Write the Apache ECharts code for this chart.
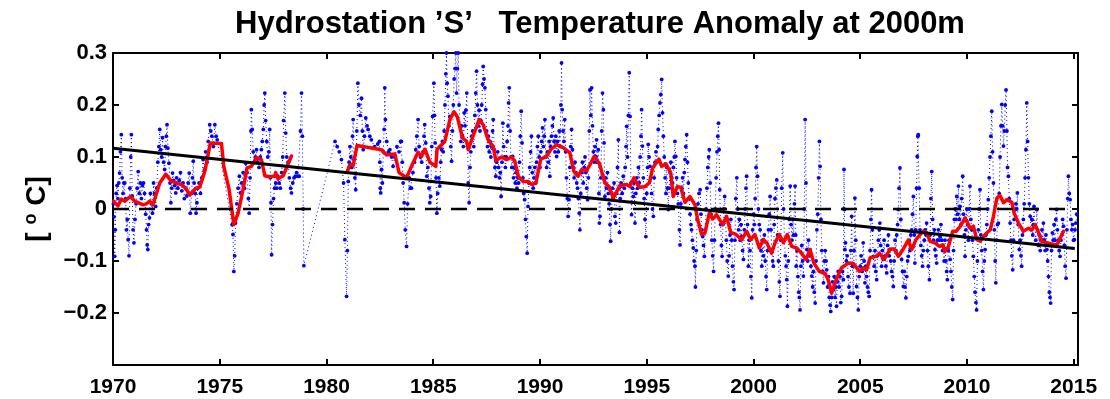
<!DOCTYPE html>
<html>
<head>
<meta charset="utf-8">
<script src="https://cdn.jsdelivr.net/npm/echarts@6/dist/echarts.min.js"></script>
<style>
  html, body { margin: 0; padding: 0; background: #fff; }
  #chart { width: 1110px; height: 399px; }
</style>
</head>
<body>
<div id="chart"></div>
<script>
// Individual cast anomalies at 2000 m: [decimal year, anomaly degC]
const castAnomaly = [
  [1970.02,0.010],[1970.05,-0.015],[1970.08,-0.091],[1970.11,-0.040],[1970.15,0.030],[1970.19,0.045],[1970.23,0.020],[1970.27,0.050],
  [1970.31,0.069],[1970.35,0.110],[1970.39,0.143],[1970.43,0.060],[1970.47,0.030],[1970.51,0.050],[1970.55,0.050],[1970.59,0.020],
  [1970.63,-0.040],[1970.67,-0.020],[1970.71,-0.059],[1970.75,-0.090],[1970.79,0.040],[1970.83,0.100],[1970.86,0.143],[1970.90,0.025],
  [1970.94,-0.040],[1970.98,-0.065],
  [1971.03,-0.020],[1971.08,0.010],[1971.13,0.040],[1971.18,0.072],[1971.23,0.030],[1971.28,0.050],[1971.33,0.020],[1971.38,0.045],
  [1971.43,0.050],[1971.48,0.030],[1971.53,-0.010],[1971.57,-0.040],[1971.60,-0.069],[1971.63,-0.078],[1971.67,-0.030],[1971.71,-0.017],
  [1971.75,0.030],[1971.80,0.010],[1971.85,-0.008],[1971.90,0.050],[1971.95,0.030],
  [1972.00,0.005],[1972.05,0.040],[1972.10,0.090],[1972.15,0.120],[1972.19,0.153],[1972.23,0.114],[1972.28,0.100],[1972.32,0.137],
  [1972.37,0.090],[1972.42,0.076],[1972.46,0.120],[1972.50,0.140],[1972.53,0.162],[1972.57,0.117],[1972.62,0.088],[1972.67,0.050],
  [1972.71,0.012],[1972.75,0.040],[1972.79,0.069],[1972.84,0.055],[1972.89,0.045],[1972.94,0.031],[1972.98,0.060],
  [1973.04,0.040],[1973.10,0.055],[1973.16,0.070],[1973.22,0.035],[1973.28,0.050],[1973.34,0.020],[1973.40,0.040],[1973.46,0.025],
  [1973.52,0.050],[1973.57,0.069],[1973.62,-0.008],[1973.68,0.030],[1973.72,0.060],[1973.76,0.092],[1973.80,0.050],[1973.85,0.030],
  [1973.89,-0.008],[1973.93,0.012],[1973.97,0.040],
  [1974.03,0.050],[1974.10,0.030],[1974.16,0.060],[1974.22,0.095],[1974.28,0.075],[1974.34,0.110],[1974.40,0.090],[1974.46,0.130],
  [1974.53,0.162],[1974.58,0.150],[1974.63,0.140],[1974.70,0.120],[1974.77,0.162],[1974.83,0.140],[1974.88,0.133],
  [1975.58,-0.030],[1975.62,-0.049],[1975.66,-0.120],[1975.70,-0.090],[1975.74,-0.027],[1975.80,0.010],[1975.86,0.040],[1975.92,0.063],
  [1975.97,0.031],
  [1976.03,0.050],[1976.10,0.070],[1976.16,0.040],[1976.22,0.088],[1976.28,0.070],[1976.34,0.020],[1976.38,-0.008],[1976.42,0.060],
  [1976.46,0.150],[1976.48,0.191],[1976.52,0.153],[1976.57,0.110],[1976.62,0.090],[1976.67,0.100],[1976.72,0.114],[1976.78,0.090],
  [1976.84,0.080],[1976.90,0.100],[1976.95,0.114],[1976.99,0.130],
  [1977.04,0.153],[1977.08,0.200],[1977.11,0.223],[1977.15,0.170],[1977.20,0.130],[1977.25,0.100],[1977.30,0.110],[1977.34,0.153],
  [1977.37,0.060],[1977.40,0.012],[1977.43,-0.088],[1977.47,-0.030],[1977.52,0.020],[1977.57,0.040],[1977.62,0.050],[1977.67,0.040],
  [1977.72,0.063],[1977.78,0.050],[1977.84,0.040],[1977.90,0.070],[1977.95,0.100],[1977.99,0.170],
  [1978.05,0.223],[1978.09,0.146],[1978.14,0.100],[1978.20,0.090],[1978.26,0.060],[1978.32,0.040],[1978.36,0.031],[1978.42,0.050],
  [1978.48,0.060],[1978.54,0.063],[1978.60,0.070],[1978.66,0.063],[1978.72,0.063],[1978.78,0.150],[1978.83,0.223],[1978.87,0.140],
  [1978.91,0.000],[1978.94,-0.109],
  [1980.40,0.130],[1980.50,0.120],[1980.60,0.110],[1980.70,0.095],[1980.80,0.050],[1980.86,-0.059],[1980.94,-0.168],[1980.98,-0.080],
  [1981.02,0.053],[1981.06,0.090],[1981.10,0.120],[1981.14,0.100],[1981.18,0.080],[1981.22,0.140],[1981.25,0.172],[1981.29,0.095],
  [1981.33,0.060],[1981.37,0.037],[1981.42,0.150],[1981.47,0.242],[1981.52,0.200],[1981.58,0.180],[1981.64,0.213],[1981.68,0.150],
  [1981.72,0.114],[1981.78,0.140],[1981.84,0.175],[1981.90,0.160],[1981.95,0.153],
  [1982.03,0.140],[1982.10,0.133],[1982.25,0.120],[1982.40,0.125],[1982.48,0.130],[1982.50,0.090],[1982.52,0.040],[1982.54,0.031],
  [1982.58,0.076],[1982.62,0.050],[1982.66,0.110],[1982.70,0.153],[1982.73,0.233],[1982.76,0.172],[1982.82,0.130],[1982.90,0.110],
  [1982.97,0.114],
  [1983.05,0.100],[1983.12,0.082],[1983.20,0.100],[1983.30,0.120],[1983.40,0.110],[1983.47,0.130],[1983.51,0.130],[1983.55,0.090],
  [1983.59,0.050],[1983.64,0.012],[1983.69,-0.040],[1983.75,-0.072],[1983.80,0.010],[1983.87,0.060],[1983.93,0.040],[1983.98,0.040],
  [1984.05,0.070],[1984.12,0.090],[1984.18,0.114],[1984.23,0.140],[1984.29,0.172],[1984.34,0.120],[1984.40,0.100],[1984.46,0.090],
  [1984.52,0.110],[1984.57,0.140],[1984.60,0.162],[1984.65,0.127],[1984.70,0.063],[1984.75,0.080],[1984.80,0.040],[1984.84,0.012],
  [1984.88,0.024],[1984.93,0.120],[1984.97,0.178],
  [1985.03,0.242],[1985.06,0.180],[1985.09,0.127],[1985.13,0.060],[1985.17,-0.008],[1985.21,0.030],[1985.26,0.060],[1985.31,0.044],
  [1985.35,0.090],[1985.39,0.114],[1985.43,0.130],[1985.47,0.110],[1985.51,0.150],[1985.55,0.200],[1985.59,0.260],[1985.62,0.300],
  [1985.65,0.242],[1985.69,0.217],[1985.73,0.160],[1985.78,0.178],[1985.82,0.120],[1985.86,0.092],[1985.90,0.150],[1985.94,0.200],
  [1985.98,0.250],
  [1986.02,0.270],[1986.06,0.300],[1986.09,0.223],[1986.13,0.270],[1986.17,0.300],[1986.21,0.200],[1986.25,0.160],[1986.29,0.130],
  [1986.33,0.160],[1986.37,0.140],[1986.41,0.120],[1986.45,0.185],[1986.49,0.160],[1986.53,0.190],[1986.57,0.223],[1986.61,0.120],
  [1986.64,0.050],[1986.68,0.012],[1986.72,0.080],[1986.76,0.110],[1986.80,0.140],[1986.85,0.150],[1986.90,0.120],[1986.95,0.180],
  [1986.99,0.223],
  [1987.03,0.265],[1987.07,0.200],[1987.11,0.160],[1987.15,0.190],[1987.19,0.150],[1987.23,0.170],[1987.27,0.200],[1987.31,0.240],
  [1987.34,0.274],[1987.38,0.250],[1987.42,0.233],[1987.46,0.191],[1987.50,0.150],[1987.54,0.120],[1987.58,0.140],[1987.62,0.110],
  [1987.66,0.130],[1987.70,0.100],[1987.74,0.120],[1987.78,0.150],[1987.81,0.172],[1987.85,0.114],[1987.89,0.080],[1987.93,0.063],
  [1987.97,0.090],
  [1988.02,0.110],[1988.06,0.080],[1988.10,0.060],[1988.14,0.070],[1988.18,0.024],[1988.22,0.090],[1988.26,0.165],[1988.30,0.120],
  [1988.34,0.100],[1988.38,0.080],[1988.42,0.100],[1988.46,0.130],[1988.50,0.160],[1988.53,0.204],[1988.56,0.233],[1988.60,0.150],
  [1988.64,0.100],[1988.68,0.080],[1988.72,0.101],[1988.76,0.060],[1988.80,0.080],[1988.84,0.050],[1988.88,0.070],[1988.92,0.040],
  [1988.96,0.060],
  [1989.00,0.050],[1989.04,0.090],[1989.08,0.140],[1989.12,0.188],[1989.16,0.127],[1989.20,0.060],[1989.24,0.030],[1989.28,0.018],
  [1989.32,-0.020],[1989.36,-0.053],[1989.40,-0.085],[1989.44,0.005],[1989.48,0.050],[1989.52,0.080],[1989.56,0.110],[1989.60,0.140],
  [1989.64,0.070],[1989.68,0.040],[1989.72,0.060],[1989.76,0.080],[1989.80,0.050],[1989.84,0.090],[1989.88,0.120],[1989.92,0.140],
  [1989.96,0.100],
  [1990.00,0.080],[1990.04,0.110],[1990.08,0.130],[1990.12,0.156],[1990.16,0.120],[1990.20,0.140],[1990.23,0.172],[1990.27,0.100],
  [1990.31,0.080],[1990.35,0.110],[1990.39,0.090],[1990.43,0.130],[1990.46,0.063],[1990.50,0.120],[1990.54,0.140],[1990.58,0.160],
  [1990.62,0.175],[1990.66,0.130],[1990.70,0.110],[1990.74,0.140],[1990.78,0.101],[1990.82,0.130],[1990.86,0.110],[1990.90,0.150],
  [1990.94,0.120],[1990.98,0.200],
  [1991.01,0.281],[1991.04,0.191],[1991.08,0.150],[1991.12,0.130],[1991.16,0.172],[1991.20,0.110],[1991.24,0.060],[1991.28,0.020],
  [1991.32,-0.014],[1991.36,0.018],[1991.40,0.080],[1991.44,0.120],[1991.48,0.153],[1991.52,0.114],[1991.56,0.080],[1991.60,0.060],
  [1991.64,0.090],[1991.68,0.070],[1991.72,0.050],[1991.76,0.040],[1991.80,0.020],[1991.84,-0.008],[1991.87,-0.040],[1991.91,0.030],
  [1991.95,0.070],[1991.99,0.090],
  [1992.03,0.050],[1992.07,0.080],[1992.11,0.100],[1992.15,0.070],[1992.19,0.040],[1992.23,0.018],[1992.27,0.060],[1992.31,0.150],
  [1992.34,0.229],[1992.38,0.180],[1992.42,0.233],[1992.46,0.160],[1992.50,0.110],[1992.54,0.090],[1992.58,0.120],[1992.62,0.100],
  [1992.65,0.133],[1992.69,0.090],[1992.73,0.114],[1992.76,0.030],[1992.78,-0.027],[1992.81,-0.014],[1992.85,0.060],[1992.89,0.150],
  [1992.93,0.223],[1992.97,0.191],
  [1993.00,0.127],[1993.04,0.024],[1993.08,0.060],[1993.12,0.040],[1993.16,0.070],[1993.20,0.030],[1993.24,0.010],[1993.28,-0.030],
  [1993.31,-0.062],[1993.35,0.000],[1993.39,0.040],[1993.43,0.020],[1993.47,0.050],[1993.51,-0.014],[1993.55,-0.027],[1993.59,0.030],
  [1993.63,0.080],[1993.67,0.133],[1993.70,0.040],[1993.72,-0.045],[1993.76,0.020],[1993.80,0.050],[1993.85,0.030],[1993.90,0.063],
  [1993.95,0.040],[1993.99,0.080],
  [1994.03,0.120],[1994.06,0.159],[1994.10,0.100],[1994.14,0.180],[1994.18,0.262],[1994.22,0.178],[1994.26,0.050],[1994.29,-0.011],
  [1994.33,0.040],[1994.37,0.024],[1994.41,0.050],[1994.45,-0.027],[1994.49,0.030],[1994.53,0.060],[1994.57,0.040],[1994.61,0.080],
  [1994.65,0.050],[1994.69,0.100],[1994.73,0.140],[1994.76,0.191],[1994.80,0.121],[1994.84,0.060],[1994.88,0.020],[1994.92,-0.020],
  [1994.96,-0.053],
  [1995.00,0.030],[1995.04,0.080],[1995.07,0.124],[1995.11,0.100],[1995.15,0.082],[1995.19,0.060],[1995.23,0.030],[1995.27,0.000],
  [1995.31,-0.014],[1995.35,0.060],[1995.39,0.090],[1995.43,0.110],[1995.47,0.090],[1995.51,0.120],[1995.54,0.153],[1995.58,0.180],
  [1995.62,0.204],[1995.66,0.220],[1995.70,0.249],[1995.74,0.185],[1995.78,0.140],[1995.82,0.100],[1995.86,0.060],[1995.90,0.030],
  [1995.94,0.080],[1995.97,0.040],
  [1996.01,-0.001],[1996.05,0.040],[1996.09,0.070],[1996.13,0.090],[1996.17,0.060],[1996.21,0.050],[1996.25,0.080],[1996.29,0.100],
  [1996.32,0.130],[1996.36,0.101],[1996.40,0.060],[1996.44,0.030],[1996.48,0.010],[1996.53,-0.040],[1996.56,-0.069],[1996.60,0.010],
  [1996.64,0.040],[1996.68,0.060],[1996.72,0.030],[1996.76,0.070],[1996.79,0.095],[1996.83,0.120],[1996.87,0.143],[1996.91,0.090],
  [1996.95,0.050],[1996.99,0.020],
  [1997.03,-0.010],[1997.07,-0.030],[1997.10,-0.040],[1997.14,-0.060],[1997.18,-0.075],[1997.22,-0.100],[1997.26,-0.110],[1997.28,-0.150],
  [1997.32,-0.080],[1997.36,-0.020],[1997.40,0.010],[1997.45,0.030],[1997.50,0.037],[1997.54,-0.010],[1997.58,-0.040],[1997.62,-0.053],
  [1997.66,-0.070],[1997.70,-0.091],[1997.74,-0.040],[1997.78,0.000],[1997.82,0.040],[1997.86,0.080],[1997.90,0.100],[1997.93,0.114],
  [1997.97,0.050],
  [1998.01,-0.010],[1998.05,-0.060],[1998.09,-0.090],[1998.13,-0.120],[1998.17,-0.060],[1998.21,0.000],[1998.25,0.060],[1998.29,0.110],
  [1998.33,0.140],[1998.36,0.165],[1998.39,0.114],[1998.42,0.037],[1998.46,-0.030],[1998.50,-0.070],[1998.53,-0.091],[1998.57,-0.030],
  [1998.61,0.000],[1998.65,0.024],[1998.69,-0.020],[1998.73,-0.060],[1998.77,-0.100],[1998.82,-0.129],[1998.86,-0.090],[1998.90,-0.050],
  [1998.94,-0.020],[1998.98,-0.060],
  [1999.02,-0.110],[1999.06,-0.140],[1999.09,-0.155],[1999.13,-0.060],[1999.17,0.020],[1999.22,0.060],[1999.26,0.000],[1999.30,-0.040],
  [1999.34,-0.020],[1999.38,-0.060],[1999.42,-0.030],[1999.45,-0.053],[1999.49,-0.080],[1999.53,-0.097],[1999.57,-0.040],[1999.61,0.000],
  [1999.65,0.040],[1999.68,0.063],[1999.72,-0.030],[1999.76,-0.110],[1999.80,-0.060],[1999.84,-0.080],[1999.88,-0.130],[1999.92,-0.171],
  [1999.96,-0.040],
  [2000.00,-0.010],[2000.04,-0.030],[2000.08,0.020],[2000.12,0.080],[2000.15,0.120],[2000.19,0.063],[2000.23,0.000],[2000.27,-0.030],
  [2000.31,-0.040],[2000.35,-0.080],[2000.39,-0.110],[2000.43,-0.060],[2000.47,-0.090],[2000.51,-0.050],[2000.55,-0.100],[2000.59,-0.130],
  [2000.62,-0.155],[2000.66,-0.080],[2000.70,-0.040],[2000.74,-0.010],[2000.78,0.024],[2000.82,-0.040],[2000.86,-0.080],[2000.90,-0.100],
  [2000.93,-0.110],[2000.97,-0.030],
  [2001.01,0.020],[2001.05,0.040],[2001.09,0.056],[2001.13,-0.050],[2001.17,-0.100],[2001.21,-0.140],[2001.24,-0.168],[2001.28,-0.060],
  [2001.32,0.040],[2001.37,0.108],[2001.41,0.000],[2001.45,-0.060],[2001.49,-0.090],[2001.53,-0.110],[2001.56,-0.136],[2001.59,-0.187],
  [2001.63,-0.100],[2001.68,-0.020],[2001.72,0.044],[2001.76,-0.030],[2001.80,-0.060],[2001.84,-0.020],[2001.88,-0.050],[2001.92,0.010],
  [2001.95,0.044],[2001.98,-0.050],
  [2002.00,-0.110],[2002.04,-0.080],[2002.08,-0.130],[2002.12,-0.160],[2002.15,-0.170],[2002.18,-0.194],[2002.22,-0.110],[2002.26,-0.070],
  [2002.30,-0.100],[2002.34,-0.129],[2002.38,0.000],[2002.42,0.172],[2002.46,0.050],[2002.50,-0.078],[2002.54,-0.100],[2002.58,-0.060],
  [2002.62,-0.090],[2002.65,-0.078],[2002.69,-0.110],[2002.73,-0.129],[2002.77,-0.150],[2002.81,-0.120],[2002.85,-0.160],[2002.89,-0.181],
  [2002.93,-0.100],[2002.97,-0.040],
  [2003.01,-0.010],[2003.05,0.060],[2003.09,0.130],[2003.12,0.082],[2003.16,-0.020],[2003.20,-0.080],[2003.24,-0.120],[2003.28,-0.142],
  [2003.32,-0.100],[2003.36,-0.080],[2003.40,-0.100],[2003.43,-0.117],[2003.47,-0.150],[2003.51,-0.130],[2003.55,-0.170],[2003.59,-0.185],
  [2003.62,-0.197],[2003.66,-0.170],[2003.70,-0.140],[2003.74,-0.155],[2003.78,-0.130],[2003.82,-0.170],[2003.86,-0.150],[2003.89,-0.187],
  [2003.93,-0.140],[2003.97,-0.120],
  [2004.01,-0.150],[2004.05,-0.130],[2004.09,-0.180],[2004.13,-0.168],[2004.17,-0.120],[2004.21,-0.136],[2004.23,0.000],[2004.24,0.076],
  [2004.26,-0.001],[2004.28,-0.078],[2004.31,-0.065],[2004.35,-0.100],[2004.39,-0.090],[2004.43,-0.130],[2004.47,-0.150],[2004.52,-0.162],
  [2004.56,-0.080],[2004.60,-0.014],[2004.64,-0.110],[2004.67,-0.162],[2004.71,-0.080],[2004.75,0.021],[2004.79,-0.060],[2004.83,-0.149],
  [2004.87,-0.170],[2004.91,-0.194],[2004.95,-0.130],
  [2005.00,-0.110],[2005.04,-0.090],[2005.09,-0.120],[2005.14,-0.065],[2005.18,-0.100],[2005.22,-0.142],[2005.26,-0.110],[2005.30,-0.130],
  [2005.34,-0.150],[2005.38,-0.160],[2005.42,-0.168],[2005.46,-0.080],[2005.50,-0.020],[2005.53,0.037],[2005.57,-0.040],[2005.61,-0.091],
  [2005.65,-0.110],[2005.69,-0.080],[2005.73,-0.120],[2005.77,-0.136],[2005.81,-0.090],[2005.85,-0.060],[2005.89,-0.040],[2005.92,-0.027],
  [2005.96,-0.070],
  [2006.00,-0.110],[2006.04,-0.080],[2006.08,-0.097],[2006.12,-0.060],[2006.16,-0.090],[2006.20,-0.110],[2006.24,-0.123],[2006.28,-0.070],
  [2006.32,-0.050],[2006.36,-0.090],[2006.39,-0.078],[2006.43,-0.100],[2006.47,-0.120],[2006.51,-0.130],[2006.55,-0.149],[2006.59,-0.100],
  [2006.63,-0.060],[2006.67,-0.080],[2006.71,-0.050],[2006.75,-0.030],[2006.78,-0.001],[2006.82,0.040],[2006.86,0.079],[2006.90,-0.020],
  [2006.94,-0.097],[2006.98,-0.120],
  [2007.02,-0.149],[2007.06,-0.120],[2007.10,-0.150],[2007.14,-0.171],[2007.18,-0.130],[2007.22,-0.100],[2007.25,-0.091],[2007.29,-0.060],
  [2007.33,-0.080],[2007.37,-0.050],[2007.41,-0.040],[2007.45,-0.010],[2007.49,0.024],[2007.53,-0.050],[2007.56,-0.104],[2007.60,-0.040],
  [2007.64,0.040],[2007.67,0.101],[2007.70,0.140],[2007.72,0.143],[2007.76,0.040],[2007.80,-0.040],[2007.84,-0.070],[2007.88,-0.090],
  [2007.92,-0.110],[2007.96,-0.080],
  [2008.00,-0.060],[2008.04,-0.040],[2008.08,-0.050],[2008.11,-0.027],[2008.15,-0.080],[2008.19,-0.110],[2008.24,-0.136],[2008.27,-0.050],
  [2008.31,0.020],[2008.35,0.072],[2008.39,-0.020],[2008.43,-0.060],[2008.47,-0.040],[2008.50,-0.078],[2008.54,-0.090],[2008.58,-0.104],
  [2008.62,-0.060],[2008.66,-0.040],[2008.70,-0.060],[2008.74,-0.053],[2008.78,-0.030],[2008.82,-0.060],[2008.86,-0.080],[2008.89,-0.072],
  [2008.93,-0.100],[2008.97,-0.060],
  [2009.01,-0.100],[2009.05,-0.120],[2009.08,-0.136],[2009.12,-0.080],[2009.16,-0.060],[2009.21,-0.097],[2009.25,-0.120],[2009.29,-0.150],
  [2009.33,-0.174],[2009.37,-0.080],[2009.41,-0.020],[2009.45,0.000],[2009.49,-0.020],[2009.52,0.024],[2009.56,-0.010],[2009.60,0.044],
  [2009.64,-0.020],[2009.67,0.005],[2009.71,-0.030],[2009.75,0.020],[2009.80,0.063],[2009.84,-0.010],[2009.88,-0.050],[2009.91,-0.091],
  [2009.95,-0.040],[2009.99,0.000],
  [2010.03,-0.030],[2010.07,-0.060],[2010.10,0.000],[2010.14,0.044],[2010.18,-0.020],[2010.22,-0.040],[2010.26,-0.060],[2010.30,-0.091],
  [2010.34,-0.130],[2010.38,-0.160],[2010.42,-0.180],[2010.45,-0.194],[2010.49,-0.100],[2010.53,-0.040],[2010.57,0.000],[2010.61,0.037],
  [2010.65,-0.050],[2010.69,-0.080],[2010.73,-0.120],[2010.77,-0.155],[2010.81,-0.100],[2010.85,-0.078],[2010.89,-0.050],[2010.93,-0.030],
  [2010.97,0.000],
  [2011.00,0.018],[2011.04,0.060],[2011.08,0.100],[2011.12,0.140],[2011.16,0.188],[2011.20,0.110],[2011.24,0.050],[2011.28,-0.040],
  [2011.32,-0.100],[2011.35,-0.142],[2011.39,-0.060],[2011.43,-0.030],[2011.47,-0.027],[2011.51,0.030],[2011.55,0.100],[2011.59,0.160],
  [2011.63,0.201],[2011.67,0.160],[2011.71,0.121],[2011.75,0.150],[2011.79,0.200],[2011.83,0.229],[2011.87,0.150],[2011.90,0.080],
  [2011.94,0.063],[2011.98,0.020],
  [2012.02,-0.027],[2012.06,-0.060],[2012.10,-0.090],[2012.14,-0.117],[2012.18,-0.060],[2012.21,-0.020],[2012.25,-0.001],[2012.29,0.010],
  [2012.33,0.000],[2012.36,0.031],[2012.40,-0.030],[2012.45,-0.078],[2012.49,-0.060],[2012.53,-0.090],[2012.56,-0.110],[2012.60,-0.050],
  [2012.64,-0.020],[2012.68,0.010],[2012.72,0.060],[2012.76,0.114],[2012.80,0.204],[2012.84,0.130],[2012.88,0.060],[2012.92,0.010],
  [2012.96,-0.014],
  [2013.00,-0.040],[2013.04,-0.020],[2013.08,-0.050],[2013.11,-0.030],[2013.14,0.005],[2013.18,-0.030],[2013.22,-0.060],[2013.27,-0.001],
  [2013.31,-0.040],[2013.35,-0.070],[2013.39,-0.050],[2013.43,-0.080],[2013.47,-0.060],[2013.51,-0.040],[2013.55,-0.060],[2013.58,-0.027],
  [2013.62,-0.060],[2013.66,-0.080],[2013.70,-0.050],[2013.74,-0.078],[2013.78,-0.100],[2013.82,-0.130],[2013.86,-0.160],[2013.89,-0.170],
  [2013.92,-0.181],[2013.96,-0.080],
  [2014.00,-0.046],[2014.04,-0.060],[2014.08,-0.030],[2014.12,-0.060],[2014.16,-0.020],[2014.20,-0.001],[2014.24,-0.040],[2014.28,-0.060],
  [2014.32,-0.080],[2014.36,-0.091],[2014.40,-0.060],[2014.44,-0.050],[2014.48,-0.020],[2014.52,-0.033],[2014.56,-0.070],[2014.60,-0.110],
  [2014.64,-0.133],[2014.68,-0.040],[2014.72,0.020],[2014.75,0.063],[2014.79,0.030],[2014.83,0.018],[2014.87,-0.020],[2014.91,-0.040],
  [2014.95,-0.030],[2014.99,-0.060],
  [2015.03,-0.059],[2015.06,-0.040],[2015.10,-0.027],[2015.14,-0.010]
];

// Running mean of the anomaly (null marks the 1978-1981 sampling gap)
const runningMean = [
  [1970.03,0.015],[1970.23,0.006],[1970.39,0.019],[1970.55,0.015],[1970.81,0.024],[1971.02,0.015],
  [1971.41,0.008],[1971.56,0.010],[1971.72,0.015],[1971.87,0.008],[1972.19,0.050],[1972.47,0.067],
  [1972.74,0.053],[1973.20,0.047],[1973.41,0.040],[1973.59,0.027],[1973.88,0.040],[1974.06,0.042],
  [1974.30,0.072],[1974.56,0.127],[1975.08,0.126],[1975.19,0.082],[1975.44,0.037],[1975.66,-0.030],
  [1975.86,-0.008],[1976.09,0.037],[1976.28,0.079],[1976.48,0.082],[1976.72,0.099],[1976.95,0.095],
  [1977.11,0.064],[1977.34,0.062],[1977.58,0.063],[1977.62,0.070],[1977.73,0.058],[1977.97,0.064],
  [1978.36,0.102],[1979.6,null],
  [1980.97,0.072],[1981.09,0.085],[1981.25,0.084],[1981.43,0.122],[1982.58,0.114],[1982.81,0.104],
  [1983.20,0.106],[1983.40,0.070],[1983.75,0.060],[1983.98,0.082],[1984.29,0.109],[1984.45,0.101],
  [1984.61,0.115],[1984.84,0.090],[1985.12,0.082],[1985.18,0.115],[1985.54,0.130],[1985.78,0.172],
  [1985.97,0.187],[1986.12,0.178],[1986.37,0.137],[1986.56,0.130],[1986.64,0.114],[1986.80,0.133],
  [1987.15,0.172],[1987.34,0.162],[1987.57,0.133],[1987.81,0.120],[1987.93,0.093],[1988.20,0.100],
  [1988.43,0.095],[1988.67,0.100],[1988.82,0.092],[1988.98,0.063],[1989.21,0.053],[1989.45,0.053],
  [1989.61,0.047],[1989.81,0.050],[1990.03,0.095],[1990.31,0.102],[1990.50,0.114],[1990.78,0.124],
  [1991.09,0.118],[1991.40,0.108],[1991.59,0.072],[1991.79,0.063],[1991.95,0.076],[1992.18,0.074],
  [1992.34,0.085],[1992.53,0.101],[1992.78,0.088],[1993.04,0.050],[1993.24,0.043],[1993.43,0.021],
  [1993.74,0.045],[1994.06,0.047],[1994.21,0.043],[1994.40,0.060],[1994.65,0.042],[1994.91,0.043],
  [1995.12,0.050],[1995.28,0.079],[1995.46,0.090],[1995.57,0.096],[1995.70,0.082],[1995.90,0.087],
  [1996.12,0.070],[1996.24,0.024],[1996.43,0.043],[1996.59,0.042],[1996.79,0.013],[1997.02,0.024],
  [1997.26,0.008],[1997.37,-0.017],[1997.57,-0.049],[1997.73,-0.046],[1997.93,-0.008],[1998.09,-0.019],
  [1998.27,-0.011],[1998.56,-0.030],[1998.74,-0.014],[1998.93,-0.045],[1999.18,-0.049],[1999.45,-0.059],
  [1999.68,-0.043],[1999.87,-0.059],[2000.07,-0.049],[2000.27,-0.075],[2000.46,-0.059],[2000.62,-0.065],
  [2000.85,-0.085],[2001.01,-0.065],[2001.21,-0.049],[2001.40,-0.065],[2001.58,-0.049],[2001.79,-0.072],
  [2002.02,-0.075],[2002.21,-0.083],[2002.46,-0.097],[2002.65,-0.078],[2002.83,-0.104],[2003.08,-0.120],
  [2003.35,-0.124],[2003.50,-0.136],[2003.66,-0.162],[2003.90,-0.133],[2004.13,-0.113],[2004.44,-0.104],
  [2004.68,-0.105],[2004.96,-0.120],[2005.14,-0.113],[2005.30,-0.117],[2005.46,-0.094],[2005.74,-0.091],
  [2005.90,-0.085],[2006.12,-0.097],[2006.40,-0.077],[2006.59,-0.077],[2006.79,-0.091],[2007.00,-0.078],
  [2007.25,-0.060],[2007.41,-0.078],[2007.61,-0.059],[2007.93,-0.043],[2008.11,-0.045],[2008.27,-0.062],
  [2008.50,-0.065],[2008.71,-0.072],[2008.86,-0.069],[2008.97,-0.082],[2009.13,-0.072],[2009.33,-0.043],
  [2009.49,-0.043],[2009.71,-0.032],[2009.91,-0.017],[2010.15,-0.037],[2010.30,-0.033],[2010.46,-0.059],
  [2010.62,-0.062],[2010.85,-0.049],[2011.09,-0.040],[2011.24,-0.014],[2011.40,0.021],[2011.55,0.026],
  [2011.71,0.012],[2011.87,0.018],[2012.10,0.013],[2012.21,-0.008],[2012.41,-0.027],[2012.64,-0.043],
  [2012.88,-0.037],[2013.04,-0.040],[2013.19,-0.030],[2013.35,-0.045],[2013.50,-0.062],[2013.74,-0.065],
  [2013.97,-0.067],[2014.21,-0.069],[2014.37,-0.056],[2014.52,-0.043]
];

// Least-squares linear trend, end points
const trendLine = [[1970.0, 0.117], [2015.05, -0.076]];
// Zero reference
const zeroLine = [[1970.0, 0], [2014.9, 0]];

const xTicks = { min: 1970, max: 2015.2, step: 5 };
const yTicks = { min: -0.3, max: 0.3, step: 0.1 };

const titleText = 'Hydrostation \u2019S\u2019   Temperature Anomaly at 2000m';
const yName = '[ {s|o} C]';

const FONT = '"Liberation Sans", Arial, Helvetica, sans-serif';

const chart = echarts.init(document.getElementById('chart'), null, { renderer: 'canvas' });

const tickStyle = { show: true, inside: true, length: 6, lineStyle: { color: '#000', width: 2 } };
const lineAxis = { show: true, onZero: false, lineStyle: { color: '#000', width: 2 } };

function yLabel(v) {
  const r = Math.round(v * 10) / 10;
  if (Math.abs(r - yTicks.min) < 1e-9) return '';
  if (Math.abs(v - r) > 1e-6) return '';
  if (r === 0) return '0';
  return (r < 0 ? '\u2212' : '') + Math.abs(r).toFixed(1);
}
function xLabel(v) {
  return Math.abs(v % xTicks.step) < 1e-6 ? String(v) : '';
}

chart.setOption({
  animation: false,
  backgroundColor: '#fff',
  grid: { left: 113, right: 32, top: 53, bottom: 34, containLabel: false },
  title: {
    text: titleText,
    left: 595, top: 4, textAlign: 'center',
    textStyle: { fontFamily: FONT, fontWeight: 'bold', fontSize: 31, color: '#000' }
  },
  xAxis: [
    {
      type: 'value', position: 'bottom', min: xTicks.min, max: xTicks.max, interval: xTicks.step,
      axisLine: lineAxis, axisTick: tickStyle, splitLine: { show: false },
      axisLabel: { formatter: xLabel, margin: 12, color: '#000', fontFamily: FONT, fontWeight: 'bold', fontSize: 21 }
    },
    {
      type: 'value', position: 'top', min: xTicks.min, max: xTicks.max, interval: xTicks.step,
      axisLine: lineAxis, axisTick: tickStyle, splitLine: { show: false }, axisLabel: { show: false }
    }
  ],
  yAxis: [
    {
      type: 'value', position: 'left', min: yTicks.min, max: yTicks.max, interval: yTicks.step,
      axisLine: lineAxis, axisTick: tickStyle, splitLine: { show: false },
      axisLabel: { formatter: yLabel, margin: 6, color: '#000', fontFamily: FONT, fontWeight: 'bold', fontSize: 22 },
      name: yName, nameLocation: 'middle', nameRotate: 90, nameGap: 61,
      nameTextStyle: {
        fontFamily: FONT, fontWeight: 'bold', fontSize: 28, color: '#000',
        rich: { s: { fontFamily: FONT, fontWeight: 'bold', fontSize: 18, verticalAlign: 'top', padding: [0, 0, 12, 0] } }
      }
    },
    {
      type: 'value', position: 'right', min: yTicks.min, max: yTicks.max, interval: yTicks.step,
      axisLine: lineAxis, axisTick: tickStyle, splitLine: { show: false }, axisLabel: { show: false }
    }
  ],
  series: [
    {
      name: 'casts', type: 'line', data: castAnomaly, z: 2,
      symbol: 'circle', symbolSize: 3.8, showSymbol: true,
      itemStyle: { color: '#0000ff' },
      lineStyle: { color: '#0000ff', width: 1, type: [1, 3] },
      emphasis: { disabled: true }
    },
    {
      name: 'running mean', type: 'line', data: runningMean, z: 3,
      symbol: 'none', connectNulls: false,
      lineStyle: { color: '#ff0000', width: 3.5, join: 'round', cap: 'round' }
    },
    {
      name: 'trend', type: 'line', data: trendLine, z: 4, symbol: 'none',
      lineStyle: { color: '#000', width: 3 }
    },
    {
      name: 'zero', type: 'line', data: zeroLine, z: 4, symbol: 'none',
      lineStyle: { color: '#000', width: 2.5, type: [16, 10] }
    }
  ]
});
</script>
</body>
</html>
